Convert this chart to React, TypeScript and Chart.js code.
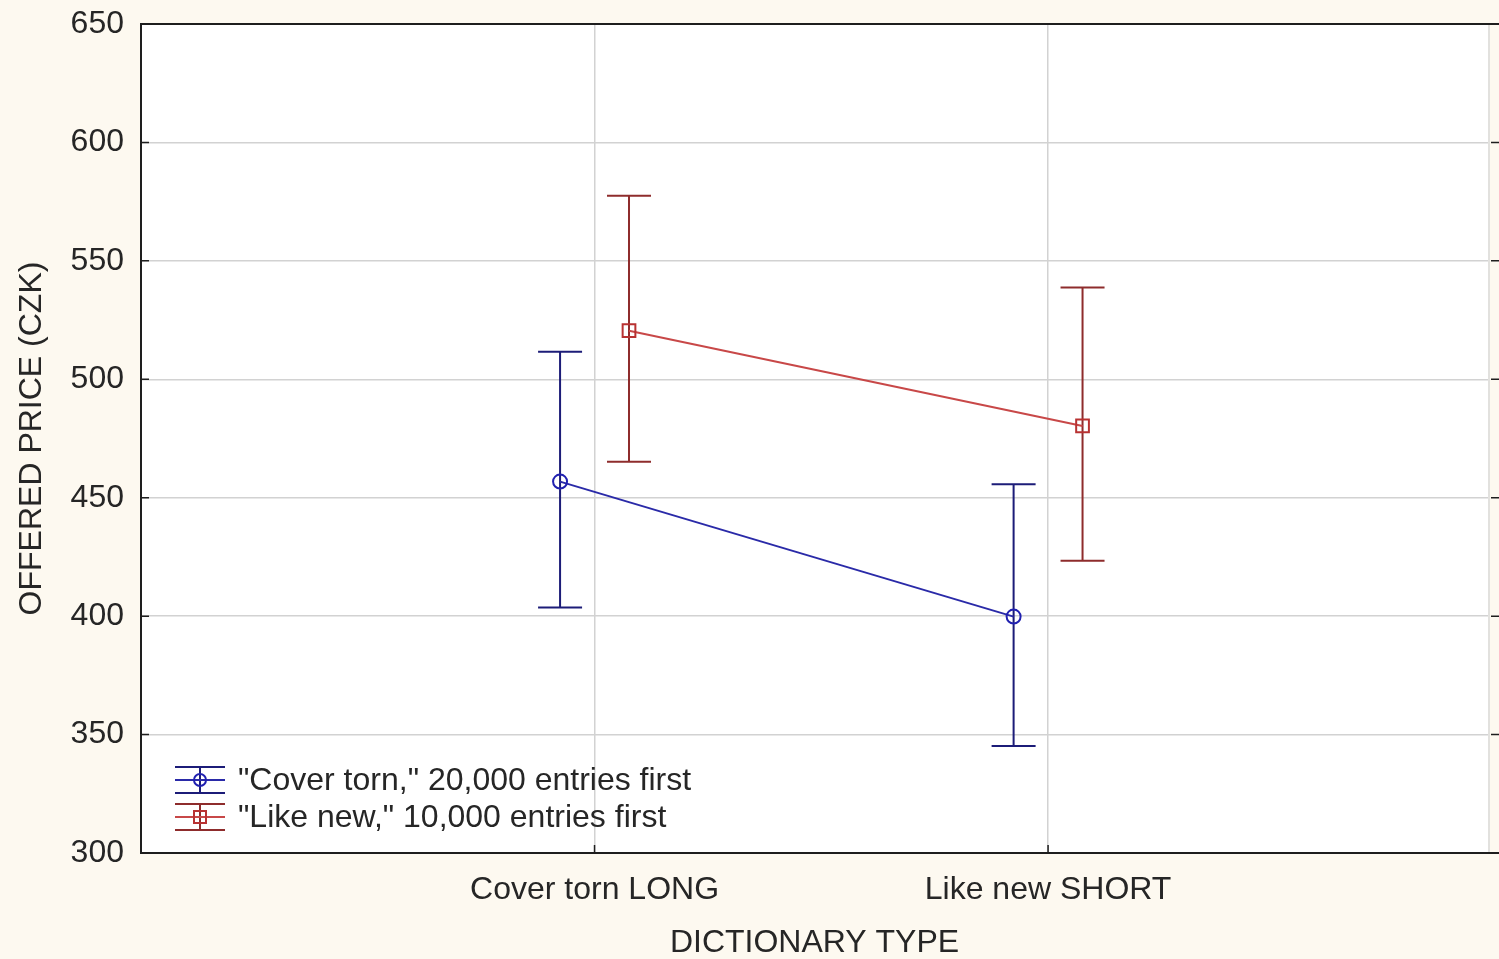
import React, { useEffect, useRef } from 'react';
import { Chart, registerables } from 'chart.js';

Chart.register(...registerables);

// ---- data ----
const CATEGORIES = ['Cover torn LONG', 'Like new SHORT'];
const SERIES_LABELS = ['"Cover torn," 20,000 entries first', '"Like new," 10,000 entries first'];
const COVER_TORN_MEAN = [456.8, 399.8];
const COVER_TORN_LOW = [403.7, 345.2];
const COVER_TORN_HIGH = [511.6, 455.7];
const LIKE_NEW_MEAN = [520.5, 480.3];
const LIKE_NEW_LOW = [465.2, 423.4];
const LIKE_NEW_HIGH = [577.5, 538.8];
const Y_MIN = 300;
const Y_MAX = 650;
const Y_STEP = 50;
const X_AXIS_TITLE = 'DICTIONARY TYPE';
const Y_AXIS_TITLE = 'OFFERED PRICE (CZK)';

// ---- style ----
const FONT = '"Liberation Sans", Arial, sans-serif';
const TEXT = '#262626';
const BG = '#fdf9f0';
const GRID = '#d2d2d2';
const AXIS = '#1e1e1e';
const DODGE = 0.076;
const CAP = 22;

const SERIES = [
  {
    label: SERIES_LABELS[0], mean: COVER_TORN_MEAN, low: COVER_TORN_LOW, high: COVER_TORN_HIGH,
    dodge: -DODGE, line: '#2a2aa8', bar: '#1c1c78', point: 'circle', radius: 7,
  },
  {
    label: SERIES_LABELS[1], mean: LIKE_NEW_MEAN, low: LIKE_NEW_LOW, high: LIKE_NEW_HIGH,
    dodge: DODGE, line: '#c84848', bar: '#8e2c2c', point: 'rect', radius: 9,
  },
];

const errorBarPlugin = {
  id: 'errorBars',
  beforeDatasetsDraw(chart: any) {
    const { ctx } = chart;
    const xs = chart.scales.x;
    const ys = chart.scales.y;
    chart.data.datasets.forEach((ds: any) => {
      ctx.save();
      ctx.strokeStyle = ds.barColor;
      ctx.lineWidth = 2;
      ds.data.forEach((p: any, i: number) => {
        const x = xs.getPixelForValue(p.x);
        const yl = ys.getPixelForValue(ds.low[i]);
        const yh = ys.getPixelForValue(ds.high[i]);
        ctx.beginPath();
        ctx.moveTo(x, yl); ctx.lineTo(x, yh);
        ctx.moveTo(x - CAP, yl); ctx.lineTo(x + CAP, yl);
        ctx.moveTo(x - CAP, yh); ctx.lineTo(x + CAP, yh);
        ctx.stroke();
      });
      ctx.restore();
    });
  },
};

const framePlugin = {
  id: 'frame',
  beforeDraw(chart: any) {
    const { ctx, chartArea: a } = chart;
    ctx.save();
    ctx.fillStyle = '#ffffff';
    ctx.fillRect(a.left, a.top, a.right - a.left, a.bottom - a.top);
    ctx.restore();
  },
  afterDraw(chart: any) {
    const { ctx, chartArea: a, width } = chart;
    const xs = chart.scales.x;
    const ys = chart.scales.y;
    ctx.save();
    ctx.strokeStyle = '#d8d8d8';
    ctx.lineWidth = 1.5;
    ctx.beginPath();
    ctx.moveTo(a.right + 1, a.top); ctx.lineTo(a.right + 1, a.bottom);
    ctx.stroke();
    ctx.strokeStyle = AXIS;
    ctx.lineWidth = 2;
    ctx.beginPath();
    ctx.moveTo(a.left - 1, a.top); ctx.lineTo(width, a.top);
    ctx.moveTo(a.left - 1, a.bottom); ctx.lineTo(width, a.bottom);
    ctx.moveTo(a.left, a.top); ctx.lineTo(a.left, a.bottom);
    ctx.stroke();
    ctx.lineWidth = 1.5;
    ctx.beginPath();
    ys.ticks.forEach((t: any) => {
      const y = ys.getPixelForValue(t.value);
      ctx.moveTo(a.left, y); ctx.lineTo(a.left + 8, y);
      ctx.moveTo(a.right + 3, y); ctx.lineTo(width, y);
    });
    xs.ticks.forEach((t: any) => {
      const x = xs.getPixelForValue(t.value);
      ctx.moveTo(x, a.bottom); ctx.lineTo(x, a.bottom - 8);
    });
    ctx.stroke();
    ctx.restore();
  },
};

const legendPlugin = {
  id: 'insideLegend',
  afterDraw(chart: any) {
    const { ctx, chartArea: a } = chart;
    const cx = a.left + 59;
    const rows = [a.bottom - 73, a.bottom - 36];
    ctx.save();
    chart.data.datasets.forEach((ds: any, i: number) => {
      const y = rows[i];
      ctx.strokeStyle = ds.barColor;
      ctx.lineWidth = 2;
      ctx.beginPath();
      ctx.moveTo(cx - 25, y - 13); ctx.lineTo(cx + 25, y - 13);
      ctx.moveTo(cx - 25, y + 13); ctx.lineTo(cx + 25, y + 13);
      ctx.moveTo(cx, y - 13); ctx.lineTo(cx, y + 13);
      ctx.stroke();
      ctx.strokeStyle = ds.borderColor;
      ctx.beginPath();
      ctx.moveTo(cx - 25, y); ctx.lineTo(cx + 25, y);
      ctx.stroke();
      ctx.strokeStyle = ds.pointBorderColor;
      ctx.beginPath();
      if (ds.pointStyle === 'circle') {
        ctx.arc(cx, y, 6, 0, Math.PI * 2);
      } else {
        ctx.rect(cx - 6, y - 6, 12, 12);
      }
      ctx.stroke();
      ctx.fillStyle = TEXT;
      ctx.font = `32px ${FONT}`;
      ctx.textBaseline = 'middle';
      ctx.textAlign = 'left';
      ctx.fillText(ds.label, a.left + 97, y + 1);
    });
    ctx.restore();
  },
};

export default function App() {
  const ref = useRef<HTMLCanvasElement>(null);
  useEffect(() => {
    document.body.style.margin = '0';
    document.body.style.background = BG;
    const datasets = SERIES.map((s) => ({
      label: s.label,
      data: s.mean.map((v, i) => ({ x: i + 1 + s.dodge, y: v })),
      low: s.low,
      high: s.high,
      barColor: s.bar,
      borderColor: s.line,
      borderWidth: 2,
      tension: 0,
      fill: false,
      pointStyle: s.point,
      pointRadius: s.radius,
      pointBorderColor: s.point === 'circle' ? '#2020b0' : '#b83232',
      pointBackgroundColor: 'rgba(0,0,0,0)',
      pointBorderWidth: 2,
    }));
    const chart = new Chart(ref.current as HTMLCanvasElement, {
      type: 'line',
      data: { datasets: datasets as any },
      options: {
        animation: false,
        responsive: false,
        devicePixelRatio: 1,
        layout: { padding: { left: 0, top: 24, right: 2, bottom: 0 } },
        plugins: { legend: { display: false }, tooltip: { enabled: false } },
        scales: {
          x: {
            type: 'linear',
            min: 0,
            max: 2.97,
            afterFit: (s: any) => {
              s.height = 106;
              s.paddingLeft = 0; s.paddingRight = 0; s.paddingTop = 0; s.paddingBottom = 0;
            },
            afterBuildTicks: (s: any) => { s.ticks = CATEGORIES.map((_, i) => ({ value: i + 1 })); },
            ticks: {
              callback: (v: any) => CATEGORIES[Math.round(Number(v)) - 1] ?? '',
              autoSkip: false,
              maxRotation: 0,
              padding: 18,
              color: TEXT,
              font: { family: FONT, size: 32 },
            },
            grid: { color: GRID, lineWidth: 1.5, drawTicks: false },
            border: { display: true, color: AXIS, width: 2 },
            title: {
              display: true,
              text: X_AXIS_TITLE,
              color: TEXT,
              font: { family: FONT, size: 32, lineHeight: 1 },
              padding: { top: 0, bottom: 0 },
            },
          },
          y: {
            type: 'linear',
            min: Y_MIN,
            max: Y_MAX,
            afterFit: (s: any) => {
              s.width = 141;
              s.paddingLeft = 0; s.paddingRight = 0; s.paddingTop = 0; s.paddingBottom = 0;
            },
            ticks: {
              stepSize: Y_STEP,
              padding: 17,
              color: TEXT,
              font: { family: FONT, size: 32 },
            },
            grid: { color: GRID, lineWidth: 1.5, drawTicks: false },
            border: { display: true, color: AXIS, width: 2 },
            title: {
              display: true,
              text: Y_AXIS_TITLE,
              color: TEXT,
              font: { family: FONT, size: 32, lineHeight: 1 },
              padding: { top: 16, bottom: 0 },
            },
          },
        },
      } as any,
      plugins: [framePlugin, errorBarPlugin, legendPlugin],
    });
    return () => chart.destroy();
  }, []);
  return (
    <div style={{ position: 'fixed', left: 0, top: 0, width: 1499, height: 959, background: BG }}>
      <canvas ref={ref} width={1499} height={959} style={{ display: 'block' }} />
    </div>
  );
}
